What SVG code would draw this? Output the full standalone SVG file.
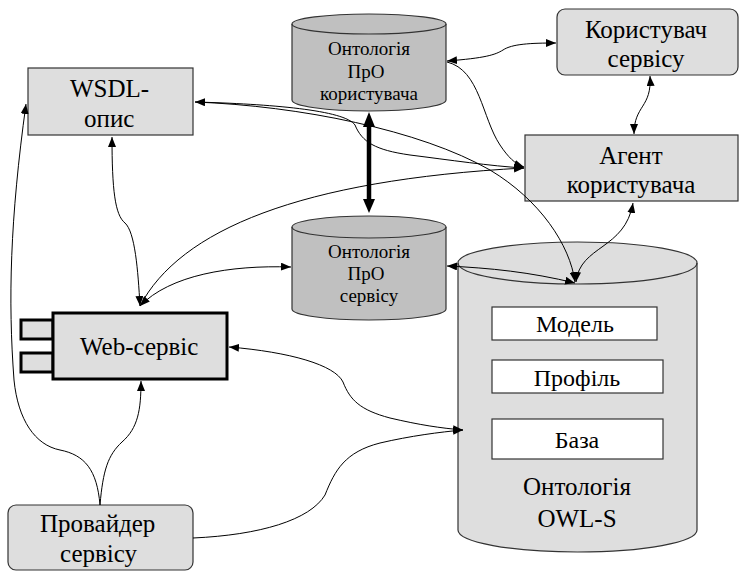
<svg xmlns="http://www.w3.org/2000/svg" width="740" height="571" viewBox="0 0 740 571">
<defs>
<marker id="ah" viewBox="0 0 10 8" refX="10" refY="4" markerWidth="10" markerHeight="8" markerUnits="userSpaceOnUse" orient="auto-start-reverse">
<path d="M0,0 L10,4 L0,8 Z" fill="#000"/>
</marker>
</defs>
<rect width="740" height="571" fill="#fff"/>

<g id="wsdl">
<rect x="28" y="68" width="165" height="67" fill="#dedede" stroke="#333" stroke-width="1.2"/>
<text x="70" y="97" font-family="Liberation Serif" font-size="25">WSDL-</text>
<text x="84" y="127" font-family="Liberation Serif" font-size="25">опис</text>
</g>

<g id="ont-user">
<path d="M292,24 A77,10 0 0 1 446,24 L446,100 A77,11 0 0 1 292,100 Z" fill="#c0c0c0" stroke="#333" stroke-width="1.2"/>
<path d="M292,24 A77,10 0 0 0 446,24" fill="none" stroke="#333" stroke-width="1.2"/>
<text x="369" y="55" font-family="Liberation Serif" font-size="19" text-anchor="middle">Онтологія</text>
<text x="366" y="78" font-family="Liberation Serif" font-size="19" text-anchor="middle">ПрО</text>
<text x="369" y="100" font-family="Liberation Serif" font-size="19" text-anchor="middle">користувача</text>
</g>

<g id="user">
<rect x="557" y="9" width="181" height="66" rx="8" fill="#dedede" stroke="#333" stroke-width="1.2"/>
<text x="646" y="38" font-family="Liberation Serif" font-size="25" text-anchor="middle">Користувач</text>
<text x="646" y="67" font-family="Liberation Serif" font-size="25" text-anchor="middle">сервісу</text>
</g>

<g id="agent">
<rect x="525" y="135" width="213" height="66" fill="#dedede" stroke="#333" stroke-width="1.2"/>
<text x="631" y="164" font-family="Liberation Serif" font-size="25" text-anchor="middle">Агент</text>
<text x="631" y="193" font-family="Liberation Serif" font-size="25" text-anchor="middle">користувача</text>
</g>

<g id="ont-service">
<path d="M292,227 A77,11 0 0 1 446,227 L446,309 A77,11 0 0 1 292,309 Z" fill="#c0c0c0" stroke="#333" stroke-width="1.2"/>
<path d="M292,227 A77,11 0 0 0 446,227" fill="none" stroke="#333" stroke-width="1.2"/>
<text x="369" y="258" font-family="Liberation Serif" font-size="19" text-anchor="middle">Онтологія</text>
<text x="366" y="280" font-family="Liberation Serif" font-size="19" text-anchor="middle">ПрО</text>
<text x="369" y="302" font-family="Liberation Serif" font-size="19" text-anchor="middle">сервісу</text>
</g>

<g id="owls">
<path d="M458,263 A119.5,21 0 0 1 697,263 L697,530 A119.5,22 0 0 1 458,530 Z" fill="#dedede" stroke="#333" stroke-width="1.2"/>
<path d="M458,263 A119.5,21 0 0 0 697,263" fill="none" stroke="#333" stroke-width="1.2"/>
<rect x="492" y="307" width="165" height="33" fill="#fff" stroke="#333" stroke-width="1.2"/>
<text x="575" y="332" font-family="Liberation Serif" font-size="24" text-anchor="middle">Модель</text>
<rect x="492" y="360" width="171" height="33" fill="#fff" stroke="#333" stroke-width="1.2"/>
<text x="577" y="386" font-family="Liberation Serif" font-size="24" text-anchor="middle">Профіль</text>
<rect x="492" y="419" width="171" height="40" fill="#fff" stroke="#333" stroke-width="1.2"/>
<text x="577" y="448" font-family="Liberation Serif" font-size="24" text-anchor="middle">База</text>
<text x="577" y="495" font-family="Liberation Serif" font-size="25" text-anchor="middle">Онтологія</text>
<text x="577" y="527" font-family="Liberation Serif" font-size="25" text-anchor="middle">OWL-S</text>
</g>

<g id="webservice">
<rect x="21" y="320" width="32" height="19" fill="#dedede" stroke="#000" stroke-width="3"/>
<rect x="21" y="353" width="32" height="19" fill="#dedede" stroke="#000" stroke-width="3"/>
<rect x="53" y="313" width="174" height="66" fill="#dedede" stroke="#000" stroke-width="3"/>
<text x="80" y="355" font-family="Liberation Serif" font-size="25">Web-сервіс</text>
</g>

<g id="provider">
<rect x="8" y="505" width="185" height="65" rx="8" fill="#dedede" stroke="#333" stroke-width="1.2"/>
<text x="40" y="532" font-family="Liberation Serif" font-size="25">Провайдер</text>
<text x="60" y="562" font-family="Liberation Serif" font-size="25">сервісу</text>
</g>

<g id="connectors" fill="none" stroke="#000" stroke-width="1">
<path marker-start="url(#ah)" marker-end="url(#ah)" d="M447,61 C485,58 495,55 503,50 C512,44 530,43 556,43"/>
<path marker-end="url(#ah)" d="M447,62 C480,70 482,118 500,145 C508,157 515,164 524,167"/>
<path marker-start="url(#ah)" marker-end="url(#ah)" d="M634,134 C634,105 652,108 650,76"/>
<path marker-start="url(#ah)" marker-end="url(#ah)" d="M195,102 C270,104 345,110 355,125 C362,142 375,150 410,155 C450,160 490,166 524,168"/>
<path marker-end="url(#ah)" d="M195,102 C300,106 420,130 490,170 C540,200 570,245 575,282"/>
<path marker-start="url(#ah)" marker-end="url(#ah)" d="M140,306 C138,270 135,232 125,223 C115,215 112,190 112,137"/>
<path marker-end="url(#ah)" d="M140,306 C180,230 300,180 524,168"/>
<path marker-start="url(#ah)" marker-end="url(#ah)" d="M140,306 C170,275 230,265 291,267"/>
<path marker-start="url(#ah)" marker-end="url(#ah)" d="M447,266 C490,268 530,272 575,283"/>
<path marker-start="url(#ah)" marker-end="url(#ah)" d="M576,282 C580,245 625,250 633,203"/>
<path marker-start="url(#ah)" marker-end="url(#ah)" d="M229,347 C290,352 335,365 343,382 C350,400 360,410 390,418 C420,425 440,428 463,430"/>
<path marker-end="url(#ah)" d="M193,538 C260,535 310,520 325,495 C335,470 345,452 380,443 C410,436 440,432 463,430"/>
<path marker-end="url(#ah)" d="M100,505 C103,470 108,455 122,442 C138,428 141,410 141,381"/>
<path marker-end="url(#ah)" d="M100,505 C97,470 85,455 60,450 C35,445 18,420 14,380 C8,300 10,220 26,104"/>
<line x1="369" y1="124" x2="369" y2="201" stroke-width="4.5"/>
<path d="M369,112 L375,127 L363,127 Z" fill="#000" stroke="none"/>
<path d="M369,213 L375,199 L363,199 Z" fill="#000" stroke="none"/>
</g>
</svg>
